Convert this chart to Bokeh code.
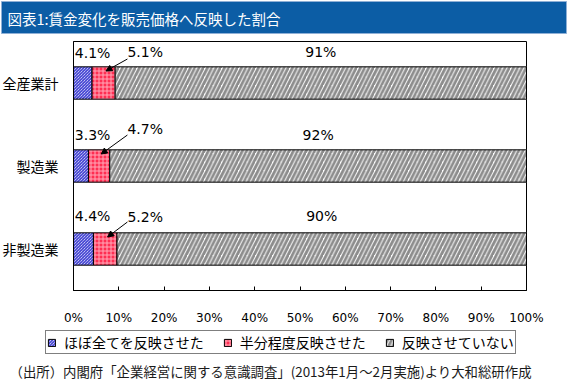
import numpy as np
from bokeh.plotting import figure
from bokeh.models import (Range1d, FixedTicker, PrintfTickFormatter, ColumnDataSource,
                          Legend, LegendItem, Label, Arrow, NormalHead, BoxAnnotation)
from bokeh.embed import file_html
from bokeh.resources import INLINE
from bokeh.core.properties import value

# ---------------- data ----------------
title_text = "図表1:賃金変化を販売価格へ反映した割合"
categories = ["全産業計", "製造業", "非製造業"]          # top to bottom
series_names = ["ほぼ全てを反映させた", "半分程度反映させた", "反映させていない"]
full_reflect = [4.1, 3.3, 4.4]
half_reflect = [5.1, 4.7, 5.2]
no_reflect = [90.8, 92.0, 90.4]
x_ticks = [0, 10, 20, 30, 40, 50, 60, 70, 80, 90, 100]
source_note = "（出所）内閣府「企業経営に関する意識調査」(2013年1月～2月実施)より大和総研作成"

# ---------------- layout constants (not data) ----------------
JP_NAME = "Noto Sans CJK JP"
NUM_NAME = "DejaVu Sans"
W, H = 568, 382
CH_L, CH_R = 73, 526          # chart box, canvas px from left
CH_T, CH_B = 41, 290          # chart box, canvas px from top
N = len(categories)
band_px = (CH_B - CH_T) / N
px_per_pct = (CH_R - CH_L) / 100.0
x_lo = -CH_L / px_per_pct
x_hi = 100 + (W - CH_R) / px_per_pct
y_lo = -(H - CH_B) / band_px
y_hi = N + CH_T / band_px

label_a_dy = [-30, -31, -33]     # px, label above first segment
label_b_dy = [-31, -37, -32]     # px, label of middle segment
label_c_dy = [-31, -31, -33]     # px, label of last segment
label_b_x = 11.9                 # data x of middle-segment label
arrow_start_dy = [24, 31, 27]    # px above bar centre
arrow_end_dy = 12                # px above bar centre

full = np.array(full_reflect)
half = np.array(half_reflect)
none_ = np.array(no_reflect)
ypos = np.array([N - 0.5 - i for i in range(N)])   # category centres, top to bottom

src = ColumnDataSource(dict(
    y=ypos,
    l0=np.zeros(N), r0=full,
    l1=full, r1=full + half,
    l2=full + half, r2=full + half + none_,
))

p = figure(width=W, height=H, x_range=Range1d(x_lo, x_hi), y_range=Range1d(y_lo, y_hi),
           output_backend="svg", toolbar_location=None, min_border=0,
           background_fill_color="white", border_fill_color="white")
p.outline_line_color = None
p.grid.visible = False

# title banner
p.add_layout(BoxAnnotation(left=1, right=566, bottom=H - 33, top=H - 1,
                           left_units="screen", right_units="screen",
                           bottom_units="screen", top_units="screen",
                           fill_color="#0C5DA5", fill_alpha=1,
                           line_color="#8FB0D6", line_width=1, line_alpha=1))
p.add_layout(Label(x=7, y=H - 18, x_units="screen", y_units="screen", text=title_text,
                   text_color="white", text_font=JP_NAME, text_font_size="14.5px",
                   text_baseline="middle"))

# chart box
p.add_layout(BoxAnnotation(left=0, right=100, bottom=0, top=N,
                           fill_alpha=0, line_color="black", line_width=1, line_alpha=1,
                           level="underlay"))

r0 = p.hbar(y="y", left="l0", right="r0", height=0.39, source=src,
            fill_color="white", line_color="black", line_width=1,
            hatch_pattern="left_diagonal_line", hatch_color="#1414C8", hatch_scale=3, hatch_weight=1)
r1 = p.hbar(y="y", left="l1", right="r1", height=0.39, source=src,
            fill_color="#FF2E52", line_color="black", line_width=1,
            hatch_pattern="cross", hatch_color="#FFA8B8", hatch_scale=4, hatch_weight=1)
r2 = p.hbar(y="y", left="l2", right="r2", height=0.39, source=src,
            fill_color="white", line_color="black", line_width=1,
            hatch_pattern="right_diagonal_line", hatch_color="#8C8C8C", hatch_scale=8.5, hatch_weight=2.8)

# value labels
lab_src = ColumnDataSource(dict(
    y=list(ypos) * 3,
    x=[0.3] * N + [label_b_x] * N + list(full + half + none_ / 2),
    txt=[f"{v:.1f}%" for v in full_reflect] + [f"{v:.1f}%" for v in half_reflect]
        + [f"{v:.0f}%" for v in no_reflect],
    dy=label_a_dy + label_b_dy + label_c_dy,
    align=["left"] * (2 * N) + ["center"] * N,
))
p.text(x="x", y="y", text="txt", source=lab_src, y_offset="dy", text_align="align",
       text_baseline="middle", text_font=value(NUM_NAME), text_font_size="14px", text_color="black")

# arrows from middle labels to middle segments
arr_src = ColumnDataSource(dict(
    xs=[label_b_x] * N,
    ys=list(ypos + np.array(arrow_start_dy) / band_px),
    xe=list(full + half * 0.6),
    ye=list(ypos + arrow_end_dy / band_px),
))
p.add_layout(Arrow(x_start="xs", y_start="ys", x_end="xe", y_end="ye", source=arr_src,
                   line_color="black", line_width=1,
                   end=NormalHead(size=6, fill_color="black", line_color="black")))

# axes (drawn at the chart box edges)
xa = p.xaxis[0]
xa.fixed_location = 0
xa.bounds = (0, 100)
xa.ticker = FixedTicker(ticks=x_ticks)
xa.formatter = PrintfTickFormatter(format="%d%%")
xa.major_tick_in = 4
xa.major_tick_out = 0
xa.minor_tick_line_color = None
xa.axis_line_color = "black"
xa.major_tick_line_color = "black"
xa.major_label_standoff = 20
xa.major_label_text_font = NUM_NAME
xa.major_label_text_font_size = "12px"
xa.major_label_text_color = "black"

ya = p.yaxis[0]
ya.fixed_location = 0
ya.bounds = (0, N)
ya.ticker = FixedTicker(ticks=list(ypos))
ya.major_label_overrides = {float(v): c for v, c in zip(ypos, categories)}
ya.major_tick_line_color = None
ya.minor_tick_line_color = None
ya.axis_line_color = "black"
ya.major_label_standoff = 9
ya.major_label_text_font = JP_NAME
ya.major_label_text_font_size = "14px"
ya.major_label_text_color = "black"

# legend
legend = Legend(items=[LegendItem(label=n, renderers=[r]) for n, r in zip(series_names, [r0, r1, r2])],
                orientation="horizontal", location=(45, H - 354), margin=0, padding=1,
                spacing=19, label_standoff=8, glyph_width=9, glyph_height=9,
                border_line_color="black", border_line_width=1,
                background_fill_color="white", background_fill_alpha=1,
                label_text_font=JP_NAME, label_text_font_size="14px", label_text_color="black")
p.add_layout(legend)

# source note
p.add_layout(Label(x=9, y=H - 370, x_units="screen", y_units="screen", text=source_note,
                   text_font=JP_NAME, text_font_size="13.4px", text_baseline="middle", text_color="#1a1a1a"))

open("out.html", "w").write(file_html(p, INLINE))
